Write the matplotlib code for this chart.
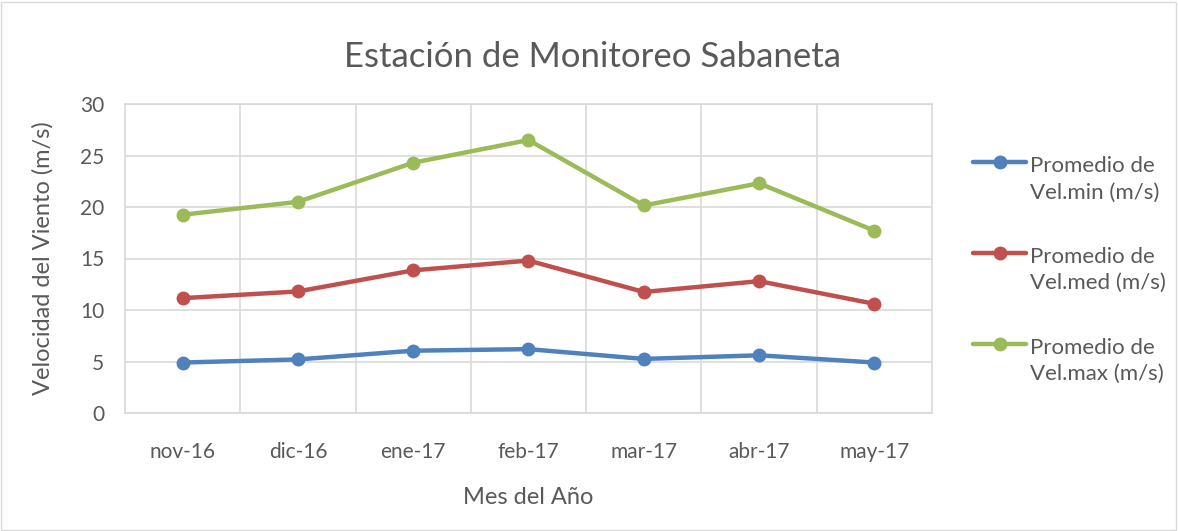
import matplotlib
matplotlib.use("Agg")
import matplotlib.pyplot as plt
from matplotlib.patches import Rectangle
from matplotlib.legend_handler import HandlerLine2D

plt.rcParams["font.family"] = ["Lato", "DejaVu Sans"]

meses = ["nov-16", "dic-16", "ene-17", "feb-17", "mar-17", "abr-17", "may-17"]
vel_min = [4.9, 5.2, 6.05, 6.2, 5.25, 5.6, 4.9]
vel_med = [11.15, 11.8, 13.85, 14.8, 11.75, 12.8, 10.6]
vel_max = [19.25, 20.5, 24.3, 26.5, 20.15, 22.3, 17.7]

series = [
    ("Promedio de\nVel.min (m/s)", vel_min, "#4F81BD"),
    ("Promedio de\nVel.med (m/s)", vel_med, "#C0504D"),
    ("Promedio de\nVel.max (m/s)", vel_max, "#9BBB59"),
]

grid_c = "#d9d9d9"
text_c = "#595959"


# Excel puts the legend key next to the first line of a two-line label
class TopHandler(HandlerLine2D):
    def create_artists(self, legend, orig_handle, xdescent, ydescent,
                       width, height, fontsize, trans):
        return super().create_artists(legend, orig_handle, xdescent,
                                      ydescent - 1.55 * fontsize, width, height,
                                      fontsize, trans)


fig = plt.figure(figsize=(11.78, 5.31), dpi=100)
ax = fig.add_axes([125 / 1178, 1 - 413 / 531, 807 / 1178, 309 / 531])

x = list(range(len(meses)))
for label, vals, col in series:
    ax.plot(x, vals, color=col, linewidth=3.2, marker="o", markersize=9,
            label=label, solid_capstyle="round")

ax.set_xlim(-0.5, len(meses) - 0.5)
ax.set_ylim(0, 30)
ax.set_yticks(range(0, 31, 5))
ax.set_xticks(x)
ax.set_xticklabels(meses)
ax.set_xticks([i + 0.5 for i in range(len(meses) - 1)], minor=True)
ax.grid(True, axis="y", color=grid_c, linewidth=1.2)
ax.grid(True, axis="x", which="minor", color=grid_c, linewidth=1.2)
ax.set_axisbelow(True)
ax.tick_params(axis="both", which="both", length=0, labelsize=15, colors=text_c)
ax.tick_params(axis="y", pad=15)
ax.tick_params(axis="x", pad=21)
for sp in ax.spines.values():
    sp.set_color(grid_c)
    sp.set_linewidth(1.2)

ax.set_xlabel("Mes del Año", fontsize=17, color=text_c)
ax.set_ylabel("Velocidad del Viento (m/s)", fontsize=17, color=text_c)
ax.xaxis.set_label_coords(0.5, -0.24)
ax.yaxis.set_label_coords(-0.088, 0.5)
fig.text(593 / 1178, 1 - 57 / 531, "Estación de Monitoreo Sabaneta",
         fontsize=25, color=text_c, ha="center", va="center")

handles, labels = ax.get_legend_handles_labels()
leg = fig.legend(handles, labels, loc="upper left",
                 bbox_to_anchor=(962 / 1178, 1 - 145 / 531),
                 frameon=False, fontsize=16, labelcolor=text_c, handlelength=2.4,
                 handletextpad=0.15, labelspacing=2.0, borderpad=0,
                 handler_map={h: TopHandler() for h in handles})
for t in leg.get_texts():
    t.set_linespacing(1.4)

fig.patches.append(Rectangle((0.001, 0.002), 0.997, 0.995, transform=fig.transFigure,
                             fill=False, edgecolor=grid_c, linewidth=1))

fig.savefig("out.png", dpi=100)
